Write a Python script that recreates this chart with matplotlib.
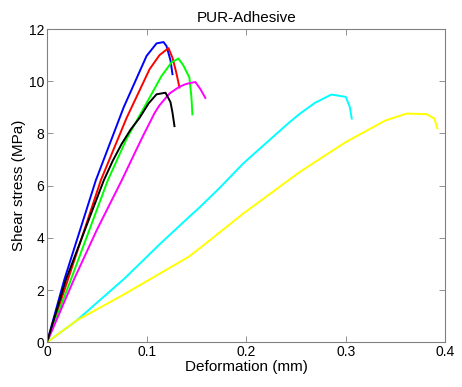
import matplotlib
matplotlib.use("Agg")
import matplotlib.pyplot as plt

plt.rcParams["font.family"] = ["Liberation Sans", "DejaVu Sans"]

# deformation (mm) / shear stress (MPa) for each specimen
BLUE_X = [0, 0.0174, 0.049, 0.077, 0.1, 0.11, 0.117, 0.12, 0.124, 0.126]
BLUE_Y = [0, 2.4, 6.2, 9.0, 10.97, 11.45, 11.5, 11.35, 10.8, 10.27]

RED_X = [0, 0.021, 0.054, 0.08, 0.103, 0.113, 0.122, 0.126, 0.13, 0.133]
RED_Y = [0, 2.4, 6.2, 8.6, 10.46, 11.0, 11.27, 10.9, 10.3, 9.76]

GREEN_X = [0, 0.024, 0.061, 0.08, 0.103, 0.115, 0.125, 0.132, 0.137, 0.143, 0.145, 0.146]
GREEN_Y = [0, 2.4, 6.2, 7.8, 9.37, 10.2, 10.72, 10.87, 10.6, 10.14, 9.4, 8.73]

MAGENTA_X = [0, 0.027, 0.05, 0.075, 0.09, 0.097, 0.103, 0.108, 0.113, 0.123, 0.133, 0.14, 0.149, 0.154, 0.159]
MAGENTA_Y = [0, 2.4, 4.3, 6.2, 7.4, 7.95, 8.4, 8.78, 9.08, 9.53, 9.79, 9.9, 9.97, 9.7, 9.36]

BLACK_X = [0, 0.019, 0.057, 0.066, 0.075, 0.084, 0.093, 0.102, 0.11, 0.119, 0.124, 0.126, 0.128]
BLACK_Y = [0, 2.4, 6.2, 6.95, 7.6, 8.15, 8.6, 9.15, 9.5, 9.56, 9.2, 8.8, 8.28]

CYAN_X = [0, 0.03, 0.078, 0.113, 0.142, 0.153, 0.173, 0.197, 0.242, 0.254, 0.269, 0.2855, 0.3, 0.304, 0.306]
CYAN_Y = [0, 0.84, 2.45, 3.75, 4.78, 5.16, 5.9, 6.85, 8.38, 8.76, 9.17, 9.49, 9.4, 9.02, 8.57]

YELLOW_X = [0, 0.03, 0.078, 0.142, 0.153, 0.197, 0.254, 0.3, 0.34, 0.361, 0.381, 0.389, 0.392]
YELLOW_Y = [0, 0.84, 1.85, 3.27, 3.59, 4.93, 6.53, 7.67, 8.5, 8.76, 8.74, 8.57, 8.19]

SERIES = [
    (BLUE_X, BLUE_Y, "#0000ff"),
    (RED_X, RED_Y, "#ff0000"),
    (GREEN_X, GREEN_Y, "#00ff00"),
    (MAGENTA_X, MAGENTA_Y, "#ff00ff"),
    (CYAN_X, CYAN_Y, "#00ffff"),
    (YELLOW_X, YELLOW_Y, "#ffff00"),
    (BLACK_X, BLACK_Y, "#000000"),
]

fig = plt.figure(figsize=(4.62, 3.87), dpi=100)
ax = fig.add_axes([0.1017, 0.1155, 0.8623, 0.8095])

for xs, ys, c in SERIES:
    ax.plot(xs, ys, color=c, lw=1.4)

ax.set_xlim(0, 0.4)
ax.set_ylim(0, 12)
ax.set_xticks([0, 0.1, 0.2, 0.3, 0.4])
ax.set_xticklabels(["0", "0.1", "0.2", "0.3", "0.4"])
ax.set_yticks(range(0, 13, 2))
ax.tick_params(direction="in", top=True, right=True, length=4, width=0.6,
               color="#808080", labelsize=10, pad=2)
for s in ax.spines.values():
    s.set_color("#808080")
    s.set_linewidth(0.8)

ax.set_xlabel("Deformation (mm)", fontsize=11, labelpad=1)
ax.set_ylabel("Shear stress (MPa)", fontsize=11, labelpad=2)
ax.set_title("PUR-Adhesive", fontsize=11, pad=5)

fig.savefig("out.png", dpi=100)
